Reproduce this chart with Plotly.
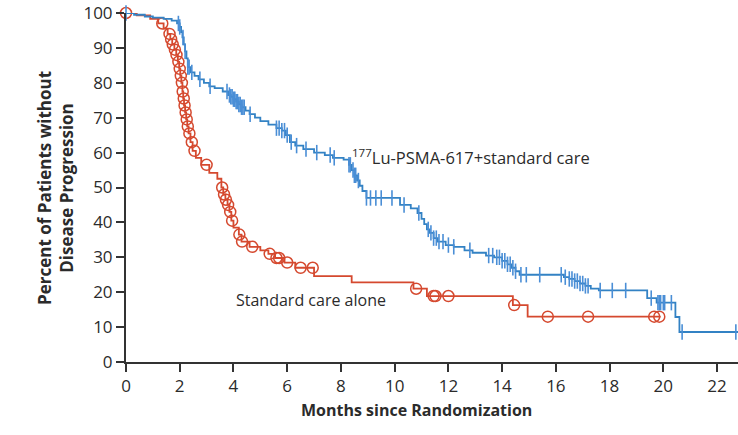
import numpy as np
import plotly.graph_objects as go

# ---- Data ----
# 177Lu-PSMA-617 + standard care: step curve knots (months, % without progression)
lu_t = [0, 0.3, 0.7, 1.0, 1.4, 1.7, 1.9, 2.0, 2.05, 2.1, 2.15, 2.2, 2.25, 2.3, 2.4, 2.55,
        2.7, 2.9, 3.1, 3.3, 3.6, 3.8, 3.9, 4.0, 4.1, 4.2, 4.3, 4.45, 4.6, 4.8, 5.0, 5.3,
        5.6, 5.8, 5.95, 6.1, 6.3, 6.6, 7.0, 7.4, 7.7, 8.1, 8.3, 8.4, 8.5, 8.6, 8.7, 8.8,
        8.95, 10.2, 10.6, 10.85, 11.0, 11.1, 11.2, 11.3, 11.45, 11.6, 11.9, 12.2, 12.6,
        12.9, 13.4, 13.7, 14.0, 14.2, 14.35, 14.5, 14.65, 16.3, 16.5, 16.7, 16.9, 17.1,
        17.3, 17.6, 19.4, 19.75, 20.45, 20.6, 22.78]
lu_s = [100, 99.5, 99, 98.7, 98.3, 97.8, 97, 96, 94.5, 93, 91, 89, 87, 84.5, 83, 82,
        81, 80, 79, 78.5, 77.5, 76.5, 76, 75.3, 74.6, 73.8, 73, 72, 71, 70, 69, 68,
        67, 66.3, 65, 63, 62, 61, 60, 59.3, 58.5, 58, 56.5, 55, 53.5, 52, 50.5, 49,
        47, 45, 44, 42.7, 41, 39.5, 38, 37, 35.5, 34.5, 33.5, 33, 32,
        31.3, 30.5, 30, 29, 28, 27, 26, 25, 24.3, 23.8, 23.2, 22.5, 21.8,
        21, 20.5, 18.3, 17, 12.9, 8.6, 8.6]
lu_cens = [0, 1.95, 2.0, 2.12, 2.2, 2.3, 2.35, 2.45, 2.75, 3.13, 3.76, 3.85, 3.9, 3.95,
           4.0, 4.05, 4.1, 4.15, 4.2, 4.25, 4.3, 4.35, 4.4, 4.62, 5.6, 5.7, 5.8, 5.9,
           6.0, 6.15, 6.35, 6.7, 7.1, 7.6, 7.75, 8.3, 8.35, 8.45, 8.5, 8.55, 8.65,
           8.95, 9.1, 9.3, 9.5, 9.9, 10.35, 10.9, 11.25, 11.35, 11.45, 11.55, 11.65,
           11.8, 12.0, 12.2, 12.8, 13.5, 13.65, 13.8, 13.9, 14.0, 14.1, 14.2, 14.3,
           14.4, 14.5, 14.7, 14.9, 15.4, 16.2, 16.35, 16.5, 16.6, 16.7, 16.8, 16.9,
           17.0, 17.1, 17.2, 17.65, 18.1, 18.6, 19.55, 19.8, 19.85, 19.9, 20.0,
           20.05, 20.3, 20.7, 22.7]

# Standard care alone: step curve knots
sc_t = [0, 0.4, 0.9, 1.2, 1.4, 1.55, 1.65, 1.72, 1.8, 1.87, 1.93, 1.98, 2.02, 2.06,
        2.1, 2.13, 2.16, 2.2, 2.24, 2.28, 2.33, 2.4, 2.48, 2.6, 2.8, 3.1, 3.4, 3.55,
        3.62, 3.7, 3.78, 3.85, 3.92, 4.0, 4.2, 4.3, 4.6, 5.0, 5.3, 5.55, 5.9, 6.3,
        7.0, 8.4, 10.7, 11.2, 14.4, 14.95, 19.9]
sc_s = [100, 99.3, 98.3, 97, 95.5, 94, 92.5, 91, 89.5, 88, 86, 84, 82, 80,
        77.5, 75.5, 73.5, 71.5, 69.5, 67.5, 65.5, 63, 60.5, 58.5, 56.5, 54.2, 52.5, 50,
        48, 46.5, 45, 43, 40.5, 38.5, 36.5, 34.5, 33, 32, 31, 29.8, 28.5, 27,
        24.6, 22.8, 21, 18.9, 16.3, 13, 13]
sc_cens = [0, 1.35, 1.62, 1.68, 1.74, 1.82, 1.88, 1.95, 2.0, 2.04, 2.08, 2.11, 2.15,
           2.18, 2.22, 2.26, 2.3, 2.36, 2.45, 2.55, 3.0, 3.58, 3.65, 3.72, 3.8, 3.88,
           3.95, 4.22, 4.32, 4.7, 5.35, 5.6, 5.7, 6.0, 6.5, 6.95, 10.8, 11.45,
           11.52, 12.0, 14.45, 15.7, 17.2, 19.66, 19.85]

x_ticks = list(range(0, 23, 2))
y_ticks = list(range(0, 101, 10))


def step_at(t_knots, s_knots, times):
    t_knots = np.asarray(t_knots)
    s_knots = np.asarray(s_knots)
    idx = np.searchsorted(t_knots, np.asarray(times), side="right") - 1
    idx = np.clip(idx, 0, len(s_knots) - 1)
    return s_knots[idx]


BLUE = "#3382c4"
BLUE_M = "#4a8ed6"
RED = "#d5492f"
TXT = "#2b2b2b"
FONT = "Open Sans"

fig = go.Figure()

fig.add_trace(go.Scatter(x=sc_t, y=sc_s, mode="lines", line_shape="hv",
                         line=dict(color=RED, width=1.8), showlegend=False,
                         cliponaxis=False))
fig.add_trace(go.Scatter(x=sc_cens, y=step_at(sc_t, sc_s, sc_cens), mode="markers",
                         marker=dict(symbol="circle-open", size=11, color=RED,
                                     line=dict(width=1.5, color=RED)),
                         showlegend=False, cliponaxis=False))
fig.add_trace(go.Scatter(x=lu_t, y=lu_s, mode="lines", line_shape="hv",
                         line=dict(color=BLUE, width=1.8), showlegend=False,
                         cliponaxis=False))
fig.add_trace(go.Scatter(x=lu_cens, y=step_at(lu_t, lu_s, lu_cens), mode="markers",
                         marker=dict(symbol="line-ns-open", size=11, color=BLUE_M,
                                     line=dict(width=1.6, color=BLUE_M)),
                         showlegend=False, cliponaxis=False))

fig.add_annotation(x=8.34, y=58.7, xref="x", yref="y", xanchor="left", yanchor="middle",
                   text="<sup>177</sup>Lu-PSMA-617+standard care", showarrow=False,
                   font=dict(family=FONT, size=16.5, color=TXT))
fig.add_annotation(x=4.02, y=17.8, xref="x", yref="y", xanchor="left", yanchor="middle",
                   text="Standard care alone", showarrow=False,
                   font=dict(family=FONT, size=16, color=TXT))

# axis titles
fig.add_annotation(x=(416 - 126) / 612, y=(362 - 410) / 349, xref="paper", yref="paper",
                   xanchor="center", yanchor="middle", showarrow=False,
                   text="<b>Months since Randomization</b>",
                   font=dict(family=FONT, size=16, color=TXT))
fig.add_annotation(x=(55 - 126) / 612, y=(362 - 188) / 349, xref="paper", yref="paper",
                   xanchor="center", yanchor="middle", showarrow=False, textangle=-90,
                   text="<b>Percent of Patients without<br>Disease Progression</b>",
                   font=dict(family=FONT, size=17, color=TXT))

fig.update_layout(
    width=738, height=435,
    margin=dict(l=126, r=0, t=13, b=73),
    paper_bgcolor="white", plot_bgcolor="white",
    font=dict(family=FONT, size=16, color=TXT),
    xaxis=dict(range=[0, 22.78], tickvals=x_ticks, ticks="outside", ticklen=8,
               tickwidth=1.5, tickcolor="#333", showline=True, linewidth=2,
               linecolor="#333", showgrid=False, zeroline=False,
               tickfont=dict(family=FONT, size=17, color=TXT)),
    yaxis=dict(range=[0, 100], tickvals=y_ticks, ticks="outside", ticklen=8,
               tickwidth=1.5, tickcolor="#333", showline=True, linewidth=2,
               linecolor="#333", showgrid=False, zeroline=False,
               tickfont=dict(family=FONT, size=17, color=TXT)),
)

fig.write_html("out.html")
